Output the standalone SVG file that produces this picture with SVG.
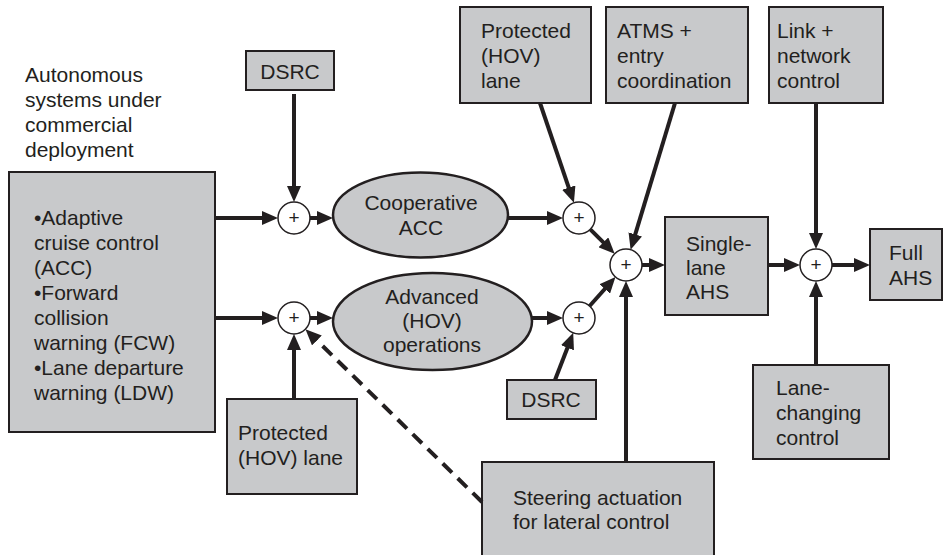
<svg xmlns="http://www.w3.org/2000/svg" width="944" height="555" viewBox="0 0 944 555">
<style>
  .box { fill: #c8c9cb; stroke: #231f20; stroke-width: 2; }
  .ell { fill: #c8c9cb; stroke: #231f20; stroke-width: 2.5; }
  .sum { fill: #ffffff; stroke: #231f20; stroke-width: 1.5; }
  .t { font-family: "Liberation Sans", Arial, sans-serif; font-size: 21px; fill: #231f20; }
  .tc { font-family: "Liberation Sans", Arial, sans-serif; font-size: 21px; fill: #231f20; text-anchor: middle; }
  .plus { font-family: "Liberation Sans", Arial, sans-serif; font-size: 19px; fill: #231f20; text-anchor: middle; }
  .c { fill: none; stroke: #231f20; stroke-width: 4; marker-end: url(#ah); }
  .d { stroke-dasharray: 13 8; }
</style>
<defs>
  <marker id="ah" markerUnits="userSpaceOnUse" viewBox="0 0 16 14" markerWidth="16" markerHeight="14" refX="6" refY="7" orient="auto">
    <path d="M0,0 L16,7 L0,14 z" fill="#231f20"/>
  </marker>
</defs>
<rect width="944" height="555" fill="#ffffff"/>

<g id="title">
  <text class="t" x="25" y="82">Autonomous</text>
  <text class="t" x="25" y="107">systems under</text>
  <text class="t" x="25" y="132">commercial</text>
  <text class="t" x="25" y="157">deployment</text>
</g>

<g id="autonomous">
  <rect class="box" x="9" y="172" width="206" height="260"/>
  <text class="t" x="34" y="225">•Adaptive</text>
  <text class="t" x="34" y="250">cruise control</text>
  <text class="t" x="34" y="275">(ACC)</text>
  <text class="t" x="34" y="300">•Forward</text>
  <text class="t" x="34" y="325">collision</text>
  <text class="t" x="34" y="350">warning (FCW)</text>
  <text class="t" x="34" y="375">•Lane departure</text>
  <text class="t" x="34" y="400">warning (LDW)</text>
</g>

<g id="dsrc-top">
  <rect class="box" x="246" y="51" width="88" height="39"/>
  <text class="tc" x="290" y="79">DSRC</text>
</g>

<g id="protected-top">
  <rect class="box" x="460" y="7" width="131" height="96"/>
  <text class="t" x="481" y="38">Protected</text>
  <text class="t" x="481" y="63">(HOV)</text>
  <text class="t" x="481" y="88">lane</text>
</g>

<g id="atms">
  <rect class="box" x="606" y="7" width="142" height="96"/>
  <text class="t" x="617" y="38">ATMS +</text>
  <text class="t" x="617" y="63">entry</text>
  <text class="t" x="617" y="88">coordination</text>
</g>

<g id="link">
  <rect class="box" x="769" y="7" width="114" height="96"/>
  <text class="t" x="777" y="38">Link +</text>
  <text class="t" x="777" y="63">network</text>
  <text class="t" x="777" y="88">control</text>
</g>

<g id="cooperative-acc">
  <ellipse class="ell" cx="420.5" cy="215" rx="87.5" ry="42.5"/>
  <text class="tc" x="421" y="210">Cooperative</text>
  <text class="tc" x="421" y="235">ACC</text>
</g>

<g id="advanced-hov">
  <ellipse class="ell" cx="432.5" cy="321.5" rx="99.5" ry="48.5"/>
  <text class="tc" x="432" y="304">Advanced</text>
  <text class="tc" x="432" y="328">(HOV)</text>
  <text class="tc" x="432" y="352">operations</text>
</g>

<g id="single-lane">
  <rect class="box" x="665" y="217" width="103" height="98"/>
  <text class="t" x="686" y="251">Single-</text>
  <text class="t" x="686" y="275">lane</text>
  <text class="t" x="686" y="299">AHS</text>
</g>

<g id="full-ahs">
  <rect class="box" x="870" y="229" width="72" height="71"/>
  <text class="t" x="889" y="260">Full</text>
  <text class="t" x="889" y="285">AHS</text>
</g>

<g id="dsrc-bottom">
  <rect class="box" x="507" y="380" width="89" height="39"/>
  <text class="tc" x="551" y="407">DSRC</text>
</g>

<g id="protected-bottom">
  <rect class="box" x="227" y="399" width="130" height="95"/>
  <text class="t" x="238" y="440">Protected</text>
  <text class="t" x="238" y="465">(HOV) lane</text>
</g>

<g id="lane-changing">
  <rect class="box" x="753" y="365" width="136" height="94"/>
  <text class="t" x="776" y="395">Lane-</text>
  <text class="t" x="776" y="420">changing</text>
  <text class="t" x="776" y="445">control</text>
</g>

<g id="steering">
  <rect class="box" x="482" y="462" width="232" height="100"/>
  <text class="t" x="513" y="505">Steering actuation</text>
  <text class="t" x="513" y="529">for lateral control</text>
</g>

<g id="connectors">
  <line class="c" x1="215" y1="218" x2="268" y2="218"/>
  <line class="c" x1="215" y1="318" x2="268" y2="318"/>
  <line class="c" x1="294" y1="94" x2="294" y2="192"/>
  <line class="c" x1="310" y1="218" x2="323" y2="218"/>
  <line class="c" x1="310" y1="318" x2="323" y2="318"/>
  <line class="c" x1="508" y1="218" x2="553" y2="218"/>
  <line class="c" x1="532" y1="318" x2="553" y2="318"/>
  <line class="c" x1="540" y1="103" x2="570.7" y2="193.3"/>
  <line class="c" x1="590.3" y1="229.3" x2="607.6" y2="246.6"/>
  <line class="c" x1="589.6" y1="306" x2="608.8" y2="284.5"/>
  <line class="c" x1="675" y1="103" x2="633.5" y2="240.1"/>
  <line class="c" x1="626" y1="462" x2="626" y2="291"/>
  <line class="c" x1="642" y1="265" x2="655" y2="265"/>
  <line class="c" x1="768" y1="265" x2="790" y2="265"/>
  <line class="c" x1="816" y1="103" x2="816" y2="239"/>
  <line class="c" x1="816" y1="365" x2="816" y2="291"/>
  <line class="c" x1="832" y1="265" x2="860" y2="265"/>
  <line class="c" x1="555" y1="380" x2="569.6" y2="342.2"/>
  <line class="c" x1="294" y1="399" x2="294" y2="344"/>
  <line class="c d" x1="482" y1="502" x2="312.6" y2="336.2"/>
</g>

<g id="sum1"><circle class="sum" cx="294" cy="218" r="16"/><text class="plus" x="294" y="224">+</text></g>
<g id="sum2"><circle class="sum" cx="579" cy="218" r="16"/><text class="plus" x="579" y="224">+</text></g>
<g id="sum3"><circle class="sum" cx="626" cy="265" r="16"/><text class="plus" x="626" y="271">+</text></g>
<g id="sum4"><circle class="sum" cx="816" cy="265" r="16"/><text class="plus" x="816" y="271">+</text></g>
<g id="sum5"><circle class="sum" cx="579" cy="318" r="16"/><text class="plus" x="579" y="324">+</text></g>
<g id="sum6"><circle class="sum" cx="294" cy="318" r="16"/><text class="plus" x="294" y="324">+</text></g>
</svg>
